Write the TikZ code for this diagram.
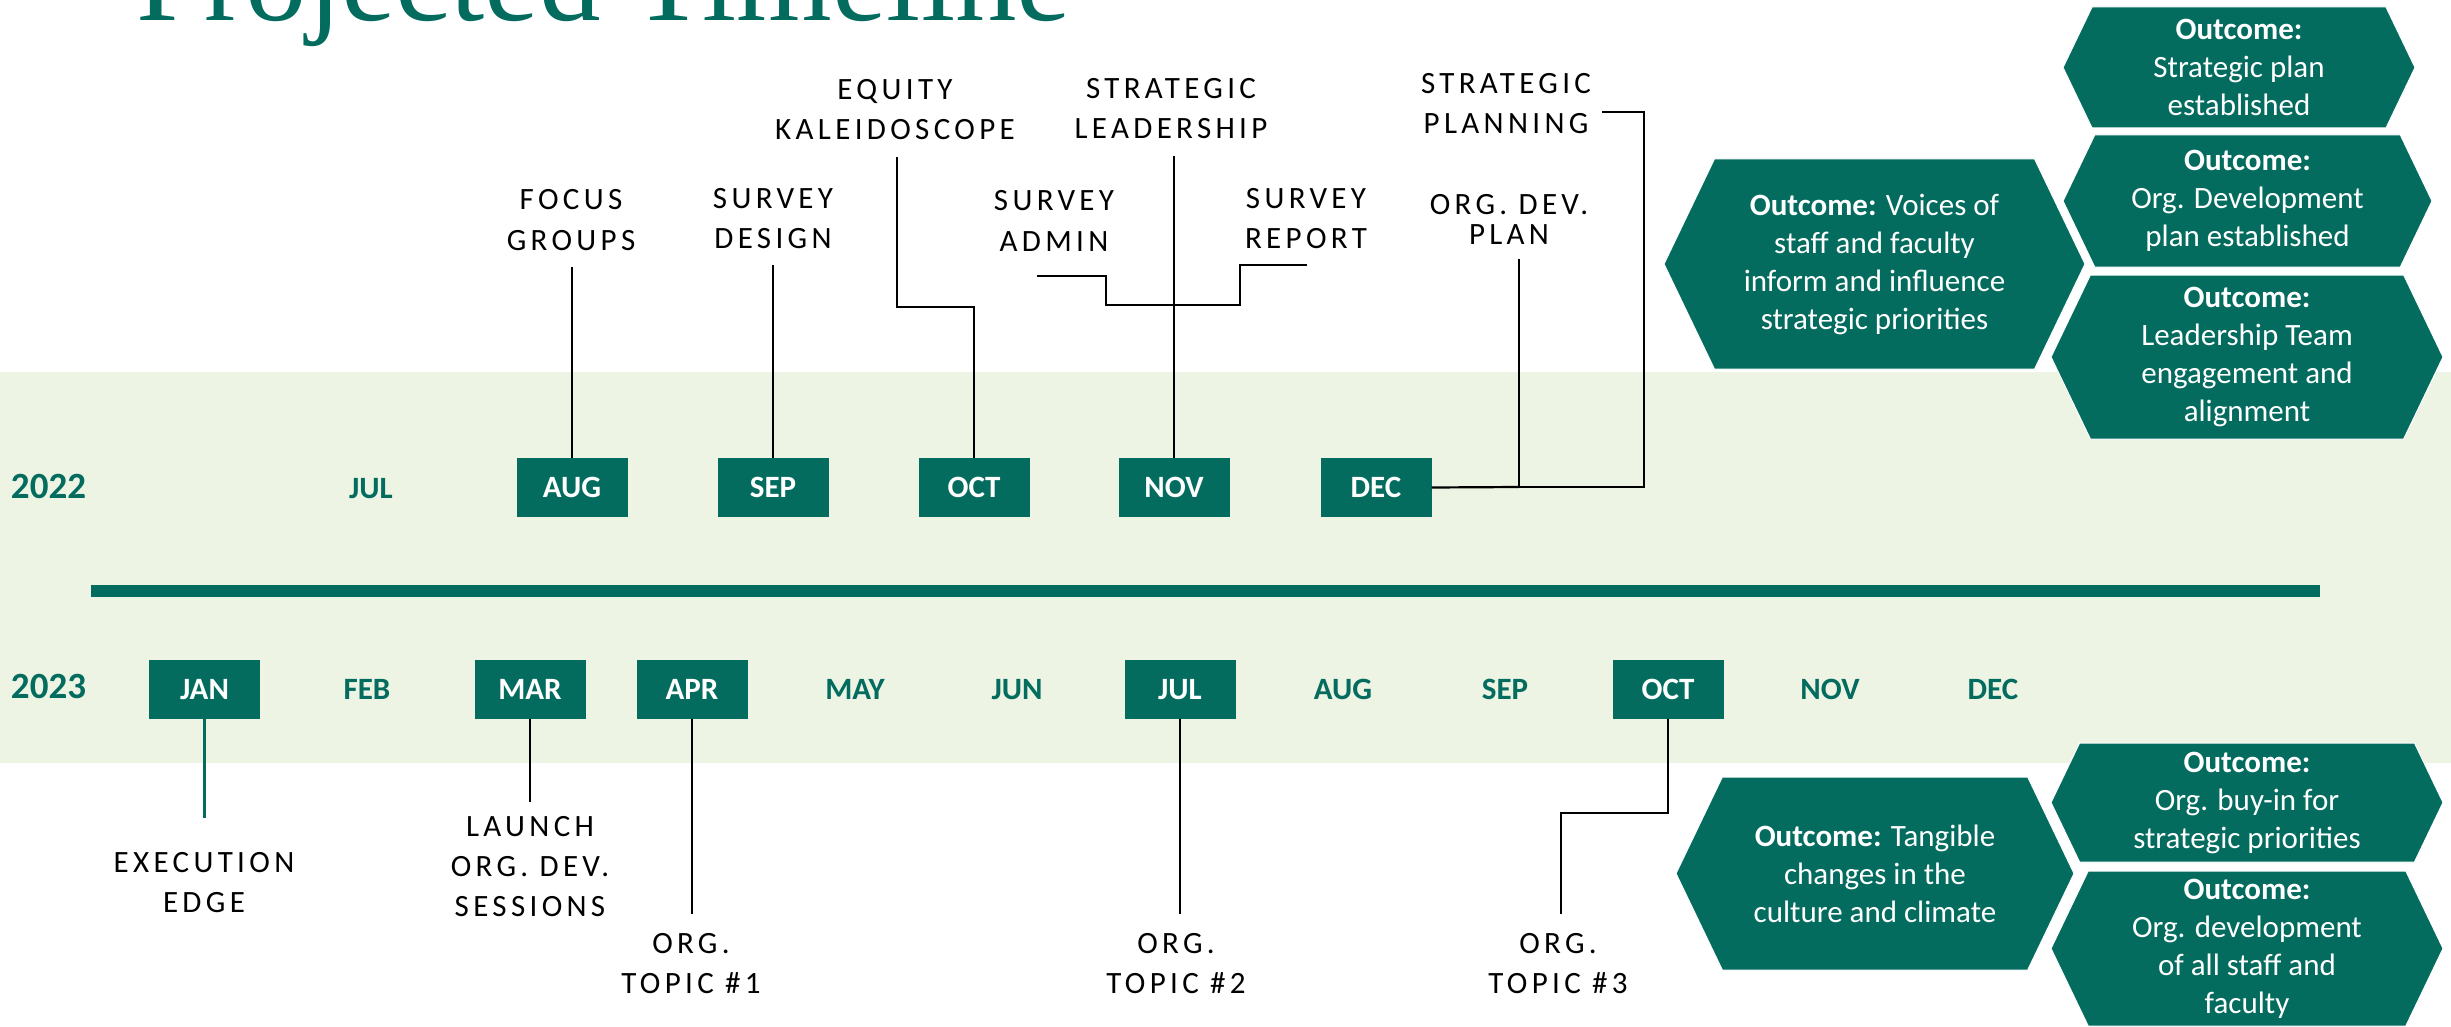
\documentclass[tikz,border=0pt]{standalone}
\usepackage{fontspec}
\setmainfont{Carlito}
\newfontfamily\spacedfont[LetterSpace=14]{Carlito}
\newfontfamily\headfont{Liberation Serif}
\definecolor{pine}{HTML}{036C5F}
\definecolor{sage}{HTML}{EDF4E3}

\tikzset{
  monthbox/.style={fill=pine, text=white, inner sep=0pt,
    minimum width=111pt, minimum height=59pt,
    font=\bfseries\fontsize{31}{31}\selectfont, text height=20pt, text depth=0pt},
  monthtext/.style={text=pine, inner sep=0pt,
    font=\bfseries\fontsize{31}{31}\selectfont, text height=20pt, text depth=0pt},
  yeartext/.style={text=pine, inner sep=0pt,
    font=\bfseries\fontsize{37}{37}\selectfont, text height=24pt, text depth=0pt},
  % anchored on the baseline of the last line
  milestone/.style={inner sep=0pt, align=center, anchor=base,
    font=\spacedfont\fontsize{31}{40}\selectfont},
  hextext/.style={inner sep=0pt, align=center, text=white,
    font=\fontsize{31}{38}\selectfont},
  conn/.style={draw=black, line width=2.2pt},
  tealconn/.style={draw=pine, line width=2.2pt},
}

% filled hexagon with a centred, named text node
% #1 name, #2 left tip, #3 right tip, #4 top, #5 bottom, #6 text
\newcommand{\outcomehex}[6]{%
  \pgfmathsetmacro{\hexin}{0.48*(#5-#4)/2}%
  \pgfmathsetmacro{\hexmid}{(#4+#5)/2}%
  \fill[pine, draw=white, line width=1pt] (#2,\hexmid) -- ({#2+\hexin},#4) -- ({#3-\hexin},#4)
    -- (#3,\hexmid) -- ({#3-\hexin},#5) -- ({#2+\hexin},#5) -- cycle;
  \node[hextext] (#1) at ({(#2+#3)/2},\hexmid) {#6};
}

\begin{document}
\begin{tikzpicture}[x=1pt,y=-1pt]
\useasboundingbox (0,0) rectangle (2451,1027);
\fill[white] (0,0) rectangle (2451,1027);

% light band behind both years
\fill[sage] (0,372) rectangle (2451,763);

% heading
\node[anchor=base west, inner sep=0pt, text=pine,
  font=\headfont\fontsize{123}{123}\selectfont] (title) at (136,21) {Projected Timeline};

% divider between the two years
\fill[pine] (91,585) rectangle (2320,597);

% ---- 2022 ----
\node[yeartext] (y2022) at (48.5,486) {2022};
\node[monthtext] (jul22) at (371,488) {JUL};
\node[monthbox] (aug22) at (572,487.5) {AUG};
\node[monthbox] (sep22) at (773,487.5) {SEP};
\node[monthbox] (oct22) at (974,487.5) {OCT};
\node[monthbox] (nov22) at (1174,487.5) {NOV};
\node[monthbox] (dec22) at (1376,487.5) {DEC};

% ---- 2023 ----
\node[yeartext] (y2023) at (48.5,686) {2023};
\node[monthbox] (jan23) at (204.5,689.5) {JAN};
\node[monthtext] (feb23) at (367,689) {FEB};
\node[monthbox] (mar23) at (530,689.5) {MAR};
\node[monthbox] (apr23) at (692,689.5) {APR};
\node[monthtext] (may23) at (855,689) {MAY};
\node[monthtext] (jun23) at (1017,689) {JUN};
\node[monthbox] (jul23) at (1180,689.5) {JUL};
\node[monthtext] (aug23) at (1343,689) {AUG};
\node[monthtext] (sep23) at (1505,689) {SEP};
\node[monthbox] (oct23) at (1668,689.5) {OCT};
\node[monthtext] (nov23) at (1830,689) {NOV};
\node[monthtext] (dec23) at (1993,689) {DEC};

% ---- milestones above 2022 ----
\node[milestone] (focus) at (571,250) {FOCUS\\GROUPS};
\node[milestone] (sdesign) at (773,248) {SURVEY\\DESIGN};
\node[milestone] (equity) at (895,140) {EQUITY\\KALEIDOSCOPE};
\node[milestone] (stratlead) at (1171,139) {STRATEGIC\\LEADERSHIP};
\node[milestone] (sadmin) at (1054,251) {SURVEY\\ADMIN};
\node[milestone] (sreport) at (1306,248) {SURVEY\\REPORT};
\node[milestone] (stratplan) at (1506,134) {STRATEGIC\\PLANNING};
\node[milestone, font=\spacedfont\fontsize{31}{30}\selectfont] (odplan) at (1509,244) {ORG. DEV.\\PLAN};

% ---- milestones below 2023 ----
\node[milestone] (exec) at (204,912) {EXECUTION\\EDGE};
\node[milestone] (launch) at (530,916) {LAUNCH\\ORG. DEV.\\SESSIONS};
\node[milestone] (topic1) at (691,993) {ORG.\\TOPIC \#1};
\node[milestone] (topic2) at (1176,993) {ORG.\\TOPIC \#2};
\node[milestone] (topic3) at (1558,993) {ORG.\\TOPIC \#3};

% connector ends and elbows
\coordinate (focusEnd) at (572,267);
\coordinate (designEnd) at (773,265);
\coordinate (equityElbow) at (974,307);
\coordinate (equityEnd) at (897,157);
\coordinate (leadEnd) at (1174,156);
\coordinate (adminEnd) at (1037,276);
\coordinate (adminStep) at (1106,305);
\coordinate (surveyJoin) at (1174,305);
\coordinate (reportEnd) at (1307,265);
\coordinate (reportStep) at (1240,305);
\coordinate (planJoin) at (1519,487);
\coordinate (odplanEnd) at (1519,259);
\coordinate (stratCorner) at (1644,112);
\coordinate (stratEnd) at (1602,112);
\coordinate (execEnd) at (204.5,818);
\coordinate (launchEnd) at (530,802);
\coordinate (topicOneEnd) at (692,914);
\coordinate (topicTwoEnd) at (1180,914);
\coordinate (topicThreeElbow) at (1668,813);
\coordinate (topicThreeEnd) at (1561,914);

% ---- connectors 2022 ----
\draw[conn] (aug22.north) -- (focusEnd);
\draw[conn] (sep22.north) -- (designEnd);
\draw[conn] (oct22.north) -- (equityElbow) -| (equityEnd);
\draw[conn] (nov22.north) -- (leadEnd);
\draw[conn] (adminEnd) -| (adminStep) -- (surveyJoin);
\draw[conn] (reportEnd) -| (reportStep) -- (surveyJoin);
\draw[conn] (dec22.east) -- (planJoin);
\draw[conn] (planJoin) -- (odplanEnd);
\draw[conn] (planJoin) -| (stratCorner) -- (stratEnd);

% ---- connectors 2023 ----
\draw[tealconn] (jan23.south) -- (execEnd);
\draw[conn] (mar23.south) -- (launchEnd);
\draw[conn] (apr23.south) -- (topicOneEnd);
\draw[conn] (jul23.south) -- (topicTwoEnd);
\draw[conn] (oct23.south) -- (topicThreeElbow) -| (topicThreeEnd);

% ---- outcomes ----
\outcomehex{outPlan}{2063}{2415}{7}{128}{\textbf{Outcome:}\\Strategic plan\\established}
\outcomehex{outDevPlan}{2063}{2432}{135}{267}{\textbf{Outcome:}\\Org. Development\\plan established}
\outcomehex{outTeam}{2051}{2443}{275}{439}{\textbf{Outcome:}\\Leadership Team\\engagement and\\alignment}
\outcomehex{outVoices}{1664}{2085}{159}{369}{\textbf{Outcome:} Voices of\\staff and faculty\\inform and influence\\strategic priorities}
\outcomehex{outChange}{1676}{2074}{777}{970}{\textbf{Outcome:} Tangible\\changes in the\\culture and climate}
\outcomehex{outBuyIn}{2051}{2443}{743}{862}{\textbf{Outcome:}\\Org. buy-in for\\strategic priorities}
\outcomehex{outStaff}{2051}{2443}{871}{1026}{\textbf{Outcome:}\\Org. development\\of all staff and\\faculty}

\end{tikzpicture}
\end{document}
